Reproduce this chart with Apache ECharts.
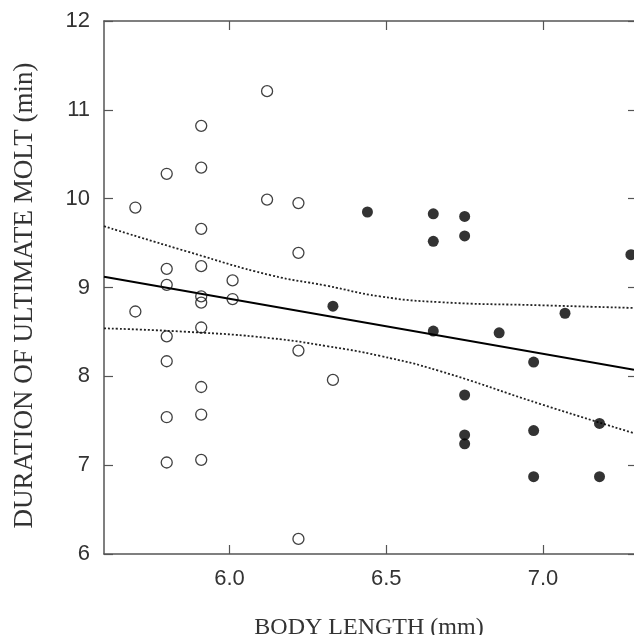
<!DOCTYPE html>
<html>
<head>
<meta charset="utf-8">
<script src="https://cdn.jsdelivr.net/npm/echarts@6/dist/echarts.min.js"></script>
<style>
html,body{margin:0;padding:0;background:#fff;}
#chart{width:634px;height:635px;}
</style>
</head>
<body>
<div id="chart"></div>
<script>
// Open circles (body length mm, duration min)
const openX = [5.70,5.70,
  5.80,5.80,5.80,5.80,5.80,5.80,5.80,
  5.91,5.91,5.91,5.91,5.91,5.91,5.91,5.91,5.91,5.91,
  6.01,6.01,
  6.12,6.12,
  6.22,6.22,6.22,6.22,
  6.33];
const openY = [9.90,8.73,
  10.28,9.21,9.03,8.45,8.17,7.54,7.03,
  10.82,10.35,9.66,9.24,8.90,8.83,8.55,7.88,7.57,7.06,
  9.08,8.87,
  11.21,9.99,
  9.95,9.39,8.29,6.17,
  7.96];
// Filled circles
const filledX = [6.33,6.44,6.65,6.65,6.65,6.75,6.75,6.75,6.75,6.75,6.86,6.97,6.97,6.97,7.07,7.18,7.18,7.28];
const filledY = [8.79,9.85,9.83,9.52,8.51,9.80,9.58,7.79,7.34,7.24,8.49,8.16,7.39,6.87,8.71,7.47,6.87,9.37];
// Regression line
const fitX = [5.60, 7.29];
const fitY = [9.12, 8.075];
// Confidence band
const upperX = [5.60,5.87,6.13,6.31,6.48,6.67,6.99,7.29];
const upperY = [9.69,9.40,9.14,9.02,8.90,8.835,8.80,8.77];
const lowerX = [5.60,5.87,6.13,6.31,6.48,6.67,6.99,7.29];
const lowerY = [8.54,8.50,8.43,8.34,8.23,8.06,7.69,7.36];
// Ticks
const xTicks = [6.0, 6.5, 7.0];
const yTicks = [6, 7, 8, 9, 10, 11, 12];

const zip = (a, b) => a.map((v, i) => [v, b[i]]);

const axisColor = '#555';
const labelFont = {fontFamily: 'Liberation Sans', fontSize: 22, color: '#333'};
const titleFont = {fontFamily: 'Liberation Serif', color: '#333'};

const chart = echarts.init(document.getElementById('chart'), null, {renderer: 'canvas'});
chart.setOption({
  animation: false,
  backgroundColor: '#fff',
  grid: {left: 104, right: 0, top: 21, bottom: 81, containLabel: false, outerBoundsMode: 'none'},
  xAxis: [{
    type: 'value', min: 5.6, max: 7.29, position: 'bottom',
    name: 'BODY LENGTH (mm)', nameLocation: 'middle', nameGap: 62,
    nameTextStyle: Object.assign({fontSize: 24}, titleFont),
    axisLine: {show: true, lineStyle: {color: axisColor, width: 1.5}},
    axisTick: {show: true, inside: true, length: 9, customValues: xTicks, lineStyle: {color: axisColor, width: 1.2}},
    axisLabel: Object.assign({show: true, customValues: xTicks, margin: 14, formatter: v => Number(v).toFixed(1)}, labelFont),
    splitLine: {show: false}
  }, {
    type: 'value', min: 5.6, max: 7.29, position: 'top',
    axisLine: {show: true, lineStyle: {color: axisColor, width: 1.5}},
    axisTick: {show: true, inside: true, length: 9, customValues: xTicks, lineStyle: {color: axisColor, width: 1.2}},
    axisLabel: {show: false},
    splitLine: {show: false}
  }],
  yAxis: [{
    type: 'value', min: 6, max: 12, interval: 1, position: 'left',
    name: 'DURATION OF ULTIMATE MOLT (min)', nameLocation: 'middle', nameGap: 66, nameRotate: 90,
    nameTextStyle: Object.assign({fontSize: 27, padding: [0, 16, 0, 0]}, titleFont),
    axisLine: {show: true, lineStyle: {color: axisColor, width: 1.5}},
    axisTick: {show: true, inside: true, length: 9, lineStyle: {color: axisColor, width: 1.2}},
    axisLabel: Object.assign({show: true, margin: 14}, labelFont),
    splitLine: {show: false}
  }, {
    type: 'value', min: 6, max: 12, interval: 1, position: 'right',
    axisLine: {show: false},
    axisTick: {show: true, inside: true, length: 6, lineStyle: {color: axisColor, width: 1.2}},
    axisLabel: {show: false},
    splitLine: {show: false}
  }],
  series: [{
    type: 'line', data: zip(upperX, upperY), smooth: true, symbol: 'none',
    lineStyle: {color: '#222', width: 1.8, type: [2, 2]}, z: 2
  }, {
    type: 'line', data: zip(lowerX, lowerY), smooth: true, symbol: 'none',
    lineStyle: {color: '#222', width: 1.8, type: [2, 2]}, z: 2
  }, {
    type: 'line', data: zip(fitX, fitY), symbol: 'none',
    lineStyle: {color: '#000', width: 2}, z: 3
  }, {
    type: 'scatter', data: zip(openX, openY), symbol: 'circle', symbolSize: 11,
    itemStyle: {color: 'transparent', borderColor: '#111', borderWidth: 1.3}, z: 4
  }, {
    type: 'scatter', data: zip(filledX, filledY), symbol: 'circle', symbolSize: 11,
    itemStyle: {color: '#000'}, z: 4
  }]
});
</script>
</body>
</html>
